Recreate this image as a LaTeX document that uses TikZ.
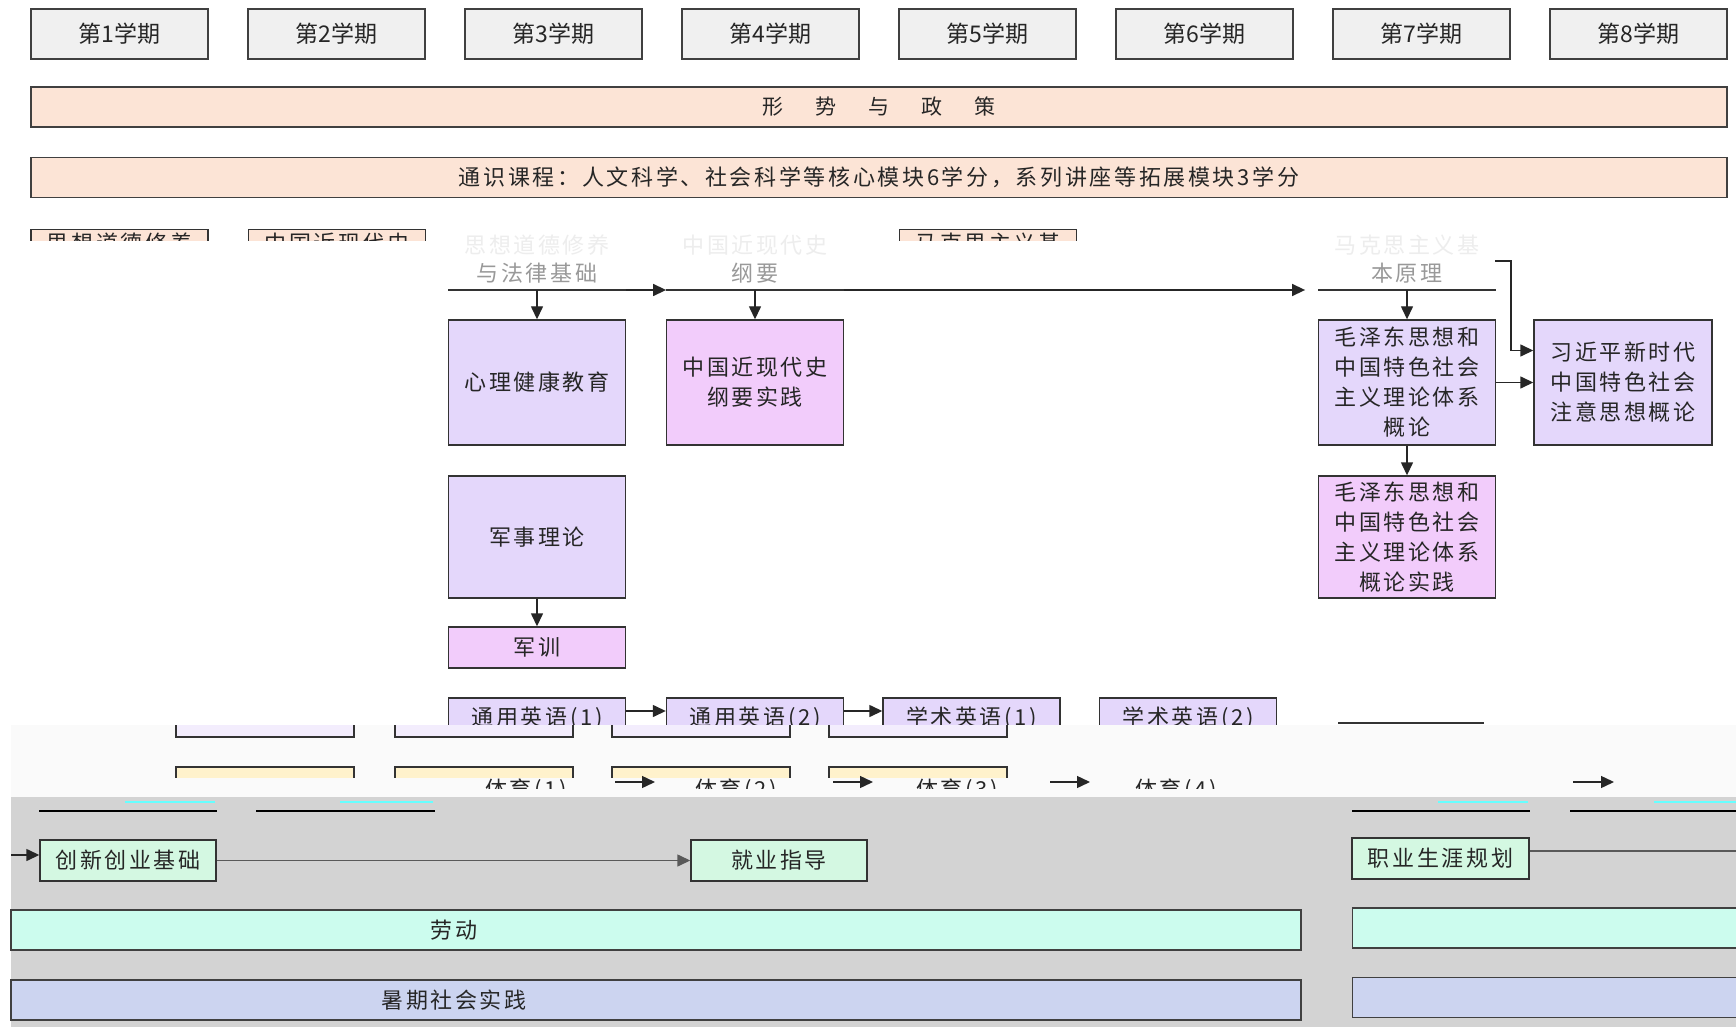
\documentclass[tikz,border=0pt]{standalone}
\usepackage{fontspec}
\usetikzlibrary{arrows.meta,positioning}

\newfontfamily\cjk{Noto Sans CJK SC}
\newfontfamily\cjksp[LetterSpace=12]{Noto Sans CJK SC}
\newfontfamily\cjkwide[LetterSpace=20]{Noto Sans CJK SC}

\definecolor{semfill}{HTML}{F0F0F0}
\definecolor{peach}{HTML}{FCE4D6}
\definecolor{lav}{HTML}{E4D7FB}
\definecolor{pinkv}{HTML}{F2CCFB}
\definecolor{mint}{HTML}{D4F8E2}
\definecolor{labor}{HTML}{CCFCEE}
\definecolor{summer}{HTML}{CCD4F0}
\definecolor{beige}{HTML}{FFF2CC}
\definecolor{grayband}{HTML}{D3D3D3}
\definecolor{offwhite}{HTML}{FAFAFA}
\definecolor{glitch}{HTML}{66FFFF}

\tikzset{
  >={Triangle[length=6.5pt,width=6pt]},
  semester/.style = {draw=black!75, line width=0.7pt, fill=semfill, minimum width=88.5pt,
    minimum height=25pt, inner sep=0pt, font=\cjk\fontsize{11.5}{13}\selectfont, text=black!85},
  band/.style = {draw=black!75, line width=0.7pt, fill=peach, minimum width=848pt,
    minimum height=20pt, inner sep=0pt, font=\cjkwide\fontsize{10.5}{13}\selectfont, text=black!85},
  course/.style = {draw=black!80, line width=0.7pt, minimum width=88.5pt, inner sep=0pt,
    align=center, font=\cjksp\fontsize{11}{15}\selectfont, text=black!85},
  theory/.style = {course, fill=lav},
  practice/.style = {course, fill=pinkv},
  career/.style = {course, fill=mint},
  longbar/.style = {draw=black!75, line width=0.7pt, minimum height=20pt, inner sep=0pt},
  remnant/.style = {anchor=south, minimum width=88.5pt, minimum height=16pt, inner sep=0pt,
    text=black!40, font=\cjksp\fontsize{11}{13}\selectfont},
  faint/.style = {text=black!7, font=\cjksp\fontsize{11}{13}\selectfont},
  edge/.style = {draw=black!80, line width=0.7pt},
  link/.style = {->, draw=black!85, line width=0.7pt},
}

\begin{document}
\begin{tikzpicture}[x=0.5pt, y=-0.5pt]
  \fill [white] (0,0) rectangle (1736,1027);
  \useasboundingbox (0,0) rectangle (1736,1027);

  % semesters
  \foreach \i in {1,...,8}
    \node [semester] (s\i) at ({119.5+217*(\i-1)},34) {第\i 学期};

  \node [band] (xszc) at (879,107) {形\hspace{16pt}势\hspace{16pt}与\hspace{16pt}政\hspace{16pt}策};
  \node [band, font=\cjksp\fontsize{11}{13}\selectfont] (tskc) at (879,177.5)
    {通识课程：人文科学、社会科学等核心模块6学分，系列讲座等拓展模块3学分};

  % cut-off row
  \begin{scope}
    \clip (0,222) rectangle (1736,240.5);
    \node [course, fill=peach, anchor=north, minimum height=40pt] (ps1) at (119.5,229) {};
    \node [course, fill=peach, anchor=north, minimum height=40pt] (ps2) at (337,229) {};
    \node [course, fill=peach, anchor=north, minimum height=40pt] (ps5) at (988,229) {};
    \node [course, draw=none] at ([yshift=-7pt]ps1.north) {思想道德修养};
    \node [course, draw=none] at ([yshift=-7pt]ps2.north) {中国近现代史};
    \node [course, draw=none] at ([yshift=-7pt]ps5.north) {马克思主义基};
  \end{scope}

  \node [remnant] (fa) at (537,290) {与法律基础};
  \node [remnant] (gy) at (755,290) {纲要};
  \node [remnant] (my) at (1407,290) {本原理};
  \node [faint] at ([yshift=6pt]fa.north) {思想道德修养};
  \node [faint] at ([yshift=6pt]gy.north) {中国近现代史};
  \node [faint] at ([yshift=6pt]my.north) {马克思主义基};
  \draw [edge] (fa.south west) -- (fa.south east);
  \draw [edge] (gy.south west) -- (gy.south east);
  \draw [edge] (my.south west) -- (my.south east);
  \coordinate (mt) at (1495,261);

  \node [theory, minimum height=62.5pt] (xl) at (537,382.5) {心理健康教育};
  \node [practice, minimum height=62.5pt] (jy) at (755,382.5) {中国近现代史\\纲要实践};
  \node [theory, minimum height=61pt] (js) at (537,537) {军事理论};
  \node [practice, minimum height=20.5pt] (jx) at (537,647.5) {军训};
  \node [theory, minimum height=62.5pt] (mao1) at (1407,382.5)
    {毛泽东思想和\\中国特色社会\\主义理论体系\\概论};
  \node [practice, minimum height=61pt] (mao2) at (1407,537)
    {毛泽东思想和\\中国特色社会\\主义理论体系\\概论实践};
  \node [theory, minimum width=89pt, minimum height=62.5pt] (xi) at (1623,382.5)
    {习近平新时代\\中国特色社会\\注意思想概论};

  \draw [link] (fa.south east) -- (gy.south west);
  \draw [link] (gy.south east) -- ([xshift=-6.5pt]my.south west);
  \draw [link] (fa.south) -- (xl.north);
  \draw [link] (gy.south) -- (jy.north);
  \draw [link] (my.south) -- (mao1.north);
  \draw [link] (js.south) -- (jx.north);
  \draw [link] (mao1.south) -- (mao2.north);
  \draw [link] (mao1.east) -- (xi.west);
  \draw [link] (mt) -- ++(16,0) |- ([yshift=16pt]xi.west);

  % english row, cut off below
  \begin{scope}
    \clip (0,690) rectangle (1736,724.5);
    \node [theory, minimum height=20pt] (ty1) at (537,718) {通用英语(1)};
    \node [theory, minimum height=20pt] (ty2) at (755,718) {通用英语(2)};
    \node [theory, minimum height=20pt] (xs1) at (971.5,718) {学术英语(1)};
    \node [theory, minimum height=20pt] (xs2) at (1188,718) {学术英语(2)};
    \draw [link] ([yshift=3.5pt]ty1.east) -- ([yshift=3.5pt]ty2.west);
    \draw [link] ([yshift=3.5pt]ty2.east) -- ([yshift=3.5pt]xs1.west);
  \end{scope}

  % broken strip
  \fill [offwhite] (11,724.5) rectangle (1736,797);
  \draw [edge] (1338,723) -- (1484,723);
  \foreach \x in {176,395,612,829} {
    \fill [lav!45] (\x,725) rectangle ({\x+178},737);
    \draw [edge] (\x,725) -- (\x,737) -- ({\x+178},737) -- ({\x+178},725);
  }
  \begin{scope}
    \clip (0,760) rectangle (1736,777);
    \foreach \x in {176,395,612,829}
      \draw [edge, fill=beige] (\x,767) rectangle ({\x+178},800);
  \end{scope}
  \begin{scope}
    \clip (0,774) rectangle (1736,788);
    \foreach \x/\n in {526/1,736/2,957/3,1176/4}
      \node [course, draw=none] at (\x,790) {体育(\n)};
  \end{scope}
  \foreach \a/\b in {615/655,833/873,1050/1090,1573/1614}
    \draw [link] (\a,782) -- (\b,782);

  % grey part
  \fill [grayband] (11,797) rectangle (1736,1027);
  \foreach \a/\b in {39/217,256/435,1352/1530,1570/1736}
    \draw [edge, draw=black] (\a,811) -- (\b,811);
  \foreach \a/\b in {125/215,340/433,1438/1528,1654/1736}
    \draw [glitch, line width=0.6pt] (\a,802) -- (\b,802);

  \node [career, minimum width=88pt, minimum height=20.5pt] (cx) at (128,860.5) {创新创业基础};
  \node [career, minimum width=88pt, minimum height=20.5pt] (jd) at (779,860.5) {就业指导};
  \node [career, minimum width=88.5pt, minimum height=20.5pt] (zy) at (1440.5,858.5) {职业生涯规划};
  \coordinate (cxin) at (11,855);
  \coordinate (zyout) at (1736,851);
  \draw [link] (cxin) -- (cxin -| cx.west);
  \draw [link, draw=black!65] (cx.east) -- (jd.west);
  \draw [edge, draw=black!65] (zyout -| zy.east) -- (zyout);

  \node [longbar, fill=labor, minimum width=645pt] (ld) at (656,930) {};
  \node [longbar, fill=labor, minimum width=204pt, anchor=west] (ld2) at (1352,928) {};
  \node [longbar, fill=summer, minimum width=645pt] (sq) at (656,1000) {};
  \node [longbar, fill=summer, minimum width=204pt, anchor=west] (sq2) at (1352,997.5) {};
  \node [course, draw=none] at (454,930) {劳动};
  \node [course, draw=none] at (454,1000) {暑期社会实践};
\end{tikzpicture}
\end{document}
